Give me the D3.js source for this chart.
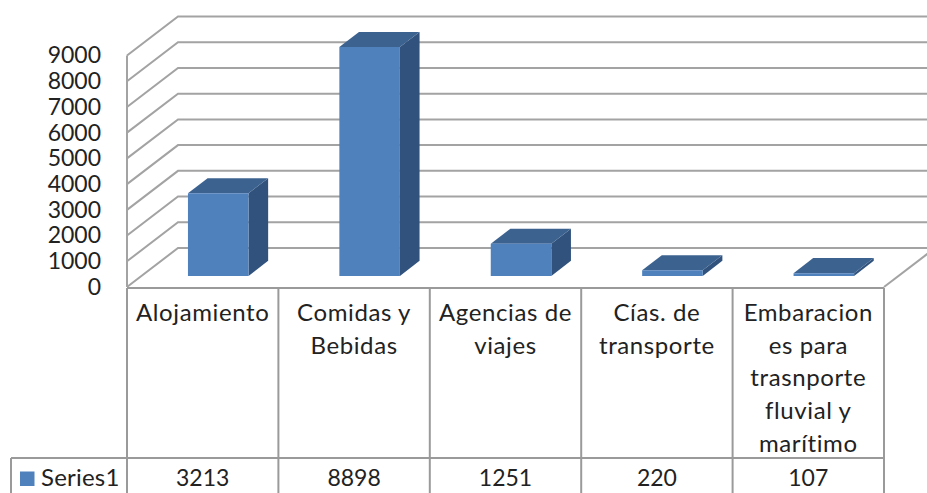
<!DOCTYPE html>
<html>
<head>
    <title>Series1</title>
    <script src="https://d3js.org/d3.v7.min.js"></script>
    <style>
        body { margin: 0; background: #fff; }
        svg { display: block; }
        text { font-family: Lato, "Open Sans", sans-serif; fill: #222; }
    </style>
</head>
<body>
    <script>
const categories = ["Alojamiento", "Comidas y Bebidas", "Agencias de viajes", "Cías. de transporte", "Embaracion es para trasnporte fluvial y marítimo"];
const categoryLines = [
    ["Alojamiento"],
    ["Comidas y", "Bebidas"],
    ["Agencias de", "viajes"],
    ["Cías. de", "transporte"],
    ["Embaracion", "es para", "trasnporte", "fluvial y", "marítimo"]
];
const values = [3213, 8898, 1251, 220, 107];
const seriesName = "Series1";
const yTicks = [0, 1000, 2000, 3000, 4000, 5000, 6000, 7000, 8000, 9000];

const width = 927, height = 493;
const gridColor = "#a3a3a3";

const svg = d3.select("body").append("svg")
    .attr("width", width)
    .attr("height", height);

// front plane scales
const y = d3.scaleLinear().domain([0, 9000]).range([287, 55.5]);
const xCell = d3.scaleBand().domain(categories).range([127, 884]);
const xBar = d3.scaleBand().domain(categories).range([128, 885]).paddingInner(0.6).paddingOuter(0.3);

// depth goes 0 (front) to 1 (back wall), sheared up and right
const depthX = d3.scaleLinear().domain([0, 1]).range([0, 51]);
const depthY = d3.scaleLinear().domain([0, 1]).range([0, -39]);
const barFront = 0.285, barBack = 0.67;

function pt(px, v, d) {
    return [px + depthX(d), y(v) + depthY(d)];
}
const line = d3.line();

// walls
const grid = svg.append("g")
    .attr("fill", "none")
    .attr("stroke", gridColor)
    .attr("stroke-width", 2);

grid.selectAll(".wall")
    .data(yTicks)
    .enter()
    .append("path")
    .attr("d", d => line([pt(127, d, 0), pt(127, d, 1), pt(936, d, 1)]));

grid.append("path").attr("d", line([pt(127, 0, 0), pt(127, 9000, 0)]));
grid.append("path").attr("d", line([pt(884, 0, 0), pt(884, 0, 1)]));

// bars: side, top, then front
const bars = svg.selectAll(".bar")
    .data(categories.map((c, i) => ({ c: c, v: values[i] })))
    .enter()
    .append("g");

function face(d, a, b, c, e) {
    return line([a, b, c, e]) + "Z";
}

bars.append("path")
    .attr("fill", "#30527c")
    .attr("d", d => {
        const r = xBar(d.c) + xBar.bandwidth();
        return face(d, pt(r, 0, barFront), pt(r, d.v, barFront), pt(r, d.v, barBack), pt(r, 0, barBack));
    });

bars.append("path")
    .attr("fill", "#3c6290")
    .attr("d", d => {
        const l = xBar(d.c), r = l + xBar.bandwidth();
        return face(d, pt(l, d.v, barFront), pt(r, d.v, barFront), pt(r, d.v, barBack), pt(l, d.v, barBack));
    });

bars.append("path")
    .attr("fill", "#4f81bd")
    .attr("d", d => {
        const l = xBar(d.c), r = l + xBar.bandwidth();
        return face(d, pt(l, 0, barFront), pt(r, 0, barFront), pt(r, d.v, barFront), pt(l, d.v, barFront));
    });

// y axis labels
const yAxis = svg.append("g")
    .attr("transform", "translate(101,0)")
    .call(d3.axisLeft(y).tickValues(yTicks).tickSize(0).tickPadding(0).tickFormat(d3.format("d")));
yAxis.select(".domain").remove();
yAxis.selectAll("text")
    .attr("font-family", null)
    .style("font-size", "23px");

// data table
const rowTop = 288, rowMid = 458;
const table = svg.append("g")
    .attr("fill", "none")
    .attr("stroke", "#9a9a9a")
    .attr("stroke-width", 2);

table.append("path").attr("d", line([[127, rowTop], [884, rowTop]]));
table.append("path").attr("d", line([[11, rowMid], [884, rowMid]]));
table.append("path").attr("d", line([[11, rowMid], [11, height]]));
table.selectAll(".cellLine")
    .data(categories)
    .enter()
    .append("path")
    .attr("d", d => line([[xCell(d), rowTop], [xCell(d), height]]));
table.append("path").attr("d", line([[884, rowTop], [884, height]]));

const lineStep = 32.7;
svg.selectAll(".catLabel")
    .data(categories)
    .enter()
    .append("text")
    .attr("text-anchor", "middle")
    .style("font-size", "24px")
    .style("letter-spacing", "0.6px")
    .selectAll("tspan")
    .data((d, i) => categoryLines[i].map((t, j) => ({ c: d, t: t, j: j })))
    .enter()
    .append("tspan")
    .attr("x", d => xCell(d.c) + xCell.bandwidth() / 2)
    .attr("y", d => 321 + d.j * lineStep)
    .text(d => d.t);

svg.selectAll(".valLabel")
    .data(values)
    .enter()
    .append("text")
    .attr("text-anchor", "middle")
    .attr("x", (d, i) => xCell(categories[i]) + xCell.bandwidth() / 2)
    .attr("y", 486)
    .style("font-size", "23px")
    .text(d => d);

svg.append("rect")
    .attr("x", 20)
    .attr("y", 471.5)
    .attr("width", 14.5)
    .attr("height", 14.5)
    .attr("fill", "#4f81bd");

svg.append("text")
    .attr("x", 41)
    .attr("y", 486)
    .style("font-size", "24px")
    .style("letter-spacing", "0.2px")
    .text(seriesName);
    </script>
</body>
</html>
